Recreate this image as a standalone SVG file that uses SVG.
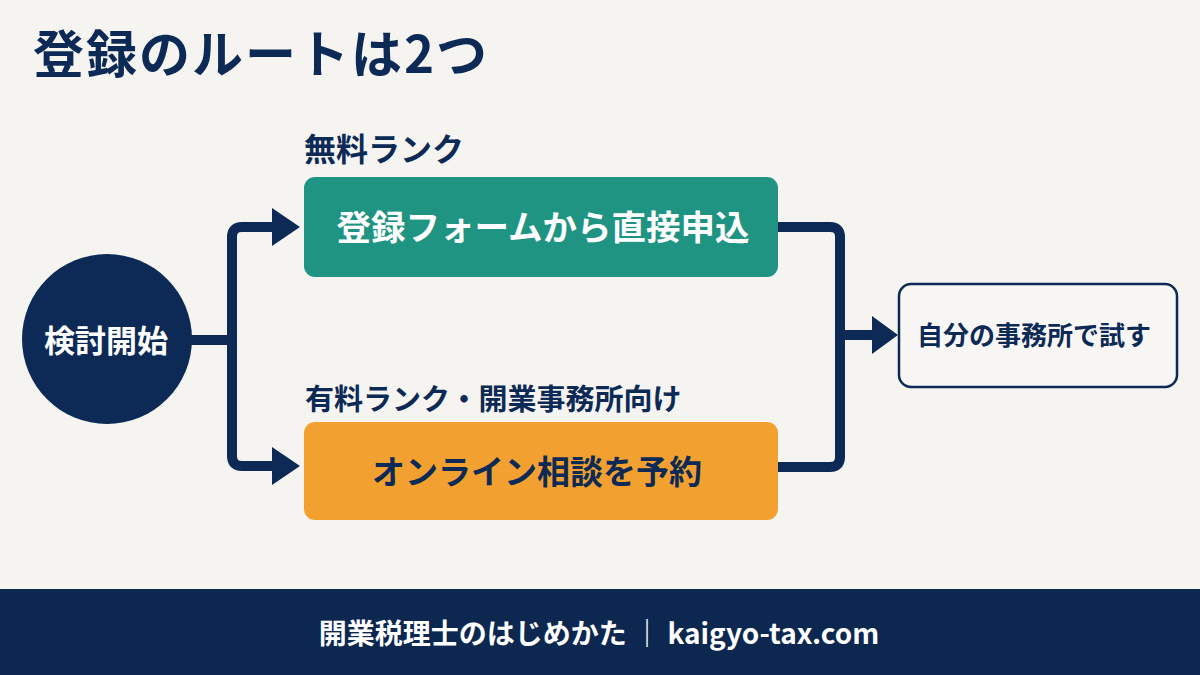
<svg xmlns="http://www.w3.org/2000/svg" width="1200" height="675" viewBox="0 0 1200 675">
  <defs>
    <style>
      text { font-family: "Noto Sans CJK JP", "Noto Sans", sans-serif; font-weight: 700; }
      .navy { fill: #0c2a55; }
      .white { fill: #ffffff; }
      .conn { fill: none; stroke: #0c2a55; stroke-width: 10; stroke-linejoin: round; }
      .head { fill: #0c2a55; }
    </style>
  </defs>
  <rect x="0" y="0" width="1200" height="675" fill="#f5f4f1"/>

  <text id="title" x="33" y="73" font-size="51" font-weight="900" letter-spacing="2" class="navy">登録のルートは2つ</text>

  <g id="connectors">
    <path class="conn" d="M190 340 H232 M232 237 Q232 227 242 227 H276 M232 237 V456 Q232 466 242 466 H276"/>
    <polygon class="head" points="272,208 300,227 272,246"/>
    <polygon class="head" points="272,447 300,466 272,485"/>
    <path class="conn" d="M776 227 H830 Q840 227 840 237 V457 Q840 467 830 467 H776 M840 335 H876"/>
    <polygon class="head" points="872,316 898,335 872,354"/>
  </g>

  <g id="start">
    <circle cx="107" cy="339" r="85" fill="#0c2a55"/>
    <text x="106" y="352" font-size="31" text-anchor="middle" class="white">検討開始</text>
  </g>

  <g id="label-free">
    <text x="304" y="161" font-size="32" class="navy">無料ランク</text>
  </g>

  <g id="form">
    <rect x="304" y="177" width="474" height="100" rx="11" fill="#1f9483"/>
    <text x="543" y="240" font-size="34.5" text-anchor="middle" class="white">登録フォームから直接申込</text>
  </g>

  <g id="label-paid">
    <text x="305" y="410" font-size="29" class="navy">有料ランク・開業事務所向け</text>
  </g>

  <g id="consult">
    <rect x="304" y="422" width="474" height="98" rx="11" fill="#f2a130"/>
    <text x="537" y="484" font-size="33" text-anchor="middle" class="navy">オンライン相談を予約</text>
  </g>

  <g id="try">
    <rect x="899" y="284" width="278" height="103" rx="12" fill="#f8f7f5" stroke="#0c2a55" stroke-width="2.5"/>
    <text x="1034" y="345" font-size="26" text-anchor="middle" class="navy">自分の事務所で試す</text>
  </g>

  <g id="footer">
    <rect x="0" y="589" width="1200" height="86" fill="#0c2750"/>
    <text x="599" y="644" font-size="28" text-anchor="middle" class="white">開業税理士のはじめかた ｜ kaigyo-tax.com</text>
  </g>
</svg>
